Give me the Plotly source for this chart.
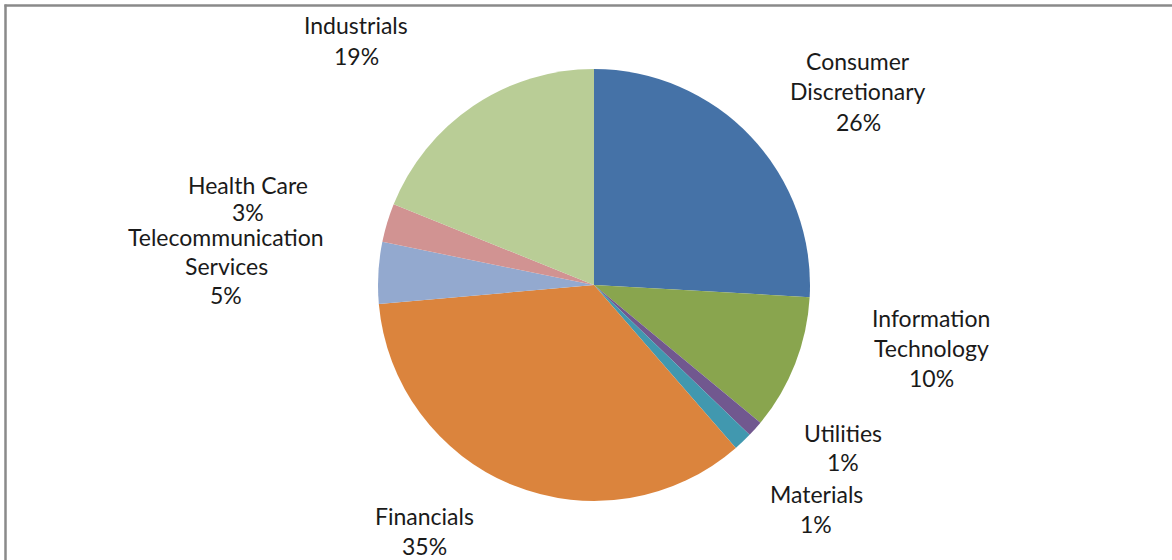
import plotly.graph_objects as go

# ---- data (clockwise from 12 o'clock) ----
sectors = ["Consumer Discretionary", "Information Technology", "Utilities", "Materials",
           "Financials", "Telecommunication Services", "Health Care", "Industrials"]
weights = [25.9, 10.1, 1.2, 1.4, 35.0, 4.6, 2.9, 18.9]
label_lines = {
    "Consumer Discretionary": ["Consumer", "Discretionary"],
    "Information Technology": ["Information", "Technology"],
    "Utilities": ["Utilities"],
    "Materials": ["Materials"],
    "Financials": ["Financials"],
    "Telecommunication Services": ["Telecommunication", "Services"],
    "Health Care": ["Health Care"],
    "Industrials": ["Industrials"],
}

# ---- styling / layout ----
colors = ["#4572A7", "#89A54E", "#71588F", "#4198AF",
          "#DB843D", "#93A9CF", "#D19392", "#B9CD96"]
W, H = 1172, 560
cx, cy, r = 594, 285, 216
# (center x, first-line center y, line spacing) of each label block, in pixels
label_pos = {
    "Consumer Discretionary": (858, 61, 30.5),
    "Information Technology": (931, 318, 30),
    "Utilities": (843, 433, 29),
    "Materials": (816, 494, 30),
    "Financials": (424, 516, 30),
    "Telecommunication Services": (226, 237, 29),
    "Health Care": (248, 185, 27),
    "Industrials": (356, 25, 31),
}
font_family = "Lato, 'Open Sans', sans-serif"
font_size = 23
text_color = "#1a1a1a"

total = sum(weights)
fig = go.Figure(go.Pie(
    labels=sectors, values=weights, sort=False, direction="clockwise", rotation=0,
    marker=dict(colors=colors, line=dict(width=0)),
    textinfo="none", hoverinfo="label+percent", showlegend=False,
    domain=dict(x=[(cx - r) / W, (cx + r) / W], y=[1 - (cy + r) / H, 1 - (cy - r) / H]),
))

annotations = []
for name, val in zip(sectors, weights):
    lines = label_lines[name] + [f"{round(100 * val / total)}%"]
    x0, y0, dy = label_pos[name]
    for i, line in enumerate(lines):
        annotations.append(dict(
            x=x0 / W, y=1 - (y0 + i * dy) / H, xref="paper", yref="paper",
            text=line, showarrow=False, xanchor="center", yanchor="middle",
            font=dict(family=font_family, size=font_size, color=text_color),
        ))

border = "#8a8a8a"
shapes = [
    dict(type="line", xref="paper", yref="paper", x0=4.5 / W, x1=1, y0=1 - 5.5 / H, y1=1 - 5.5 / H,
         line=dict(color=border, width=2.5)),
    dict(type="line", xref="paper", yref="paper", x0=5.5 / W, x1=5.5 / W, y0=0, y1=1 - 4.5 / H,
         line=dict(color=border, width=2.5)),
]

fig.update_layout(
    width=W, height=H, margin=dict(l=0, r=0, t=0, b=0),
    paper_bgcolor="white", plot_bgcolor="white",
    annotations=annotations, shapes=shapes,
)

fig.write_html("out.html")
